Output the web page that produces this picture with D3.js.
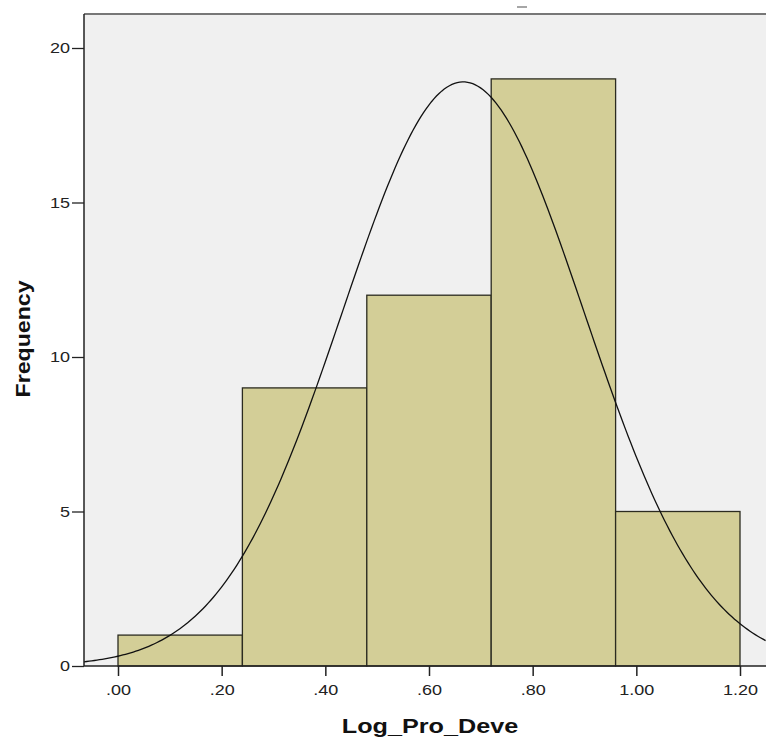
<!DOCTYPE html>
<html>
<head>
<meta charset="utf-8">
<script src="https://cdn.jsdelivr.net/npm/d3@7"></script>
<style>
  body { margin: 0; background: #fff; }
  svg { display: block; font-family: Arial, "Liberation Sans", sans-serif; }
</style>
</head>
<body>
<div id="chart"></div>
<script>
// histogram bins (Log_Pro_Deve) and their counts
const binEdges = [0, 0.24, 0.48, 0.72, 0.96, 1.20];
const counts = [1, 9, 12, 19, 5];
const xTicks = [0, 0.2, 0.4, 0.6, 0.8, 1.0, 1.2];
const yTicks = [0, 5, 10, 15, 20];

// fitted normal curve parameters
const curveMean = 0.666;
const curveSd = 0.233;
const curveN = 46;

const width = 766, height = 740;
const plot = { left: 84, top: 14, right: 766, bottom: 666 };
const stretch = 1.2; // the original picture is a bit wider than tall, text included

const svg = d3.select("#chart").append("svg")
  .attr("width", width)
  .attr("height", height);

const x = d3.scaleLinear()
  .domain([0, 1.2])
  .range([118, 740]);

const y = d3.scaleLinear()
  .domain([0, 20])
  .range([666, 48]);

// plot background
svg.append("rect")
  .attr("x", plot.left)
  .attr("y", plot.top)
  .attr("width", plot.right - plot.left)
  .attr("height", plot.bottom - plot.top)
  .attr("fill", "#f0f0f0");

// bars
const bins = counts.map((c, i) => ({ x0: binEdges[i], x1: binEdges[i + 1], n: c }));
svg.selectAll(".bar")
  .data(bins)
  .enter()
  .append("rect")
  .attr("class", "bar")
  .attr("x", d => x(d.x0))
  .attr("y", d => y(d.n))
  .attr("width", d => x(d.x1) - x(d.x0))
  .attr("height", d => y(0) - y(d.n))
  .attr("fill", "#d3ce97")
  .attr("stroke", "#2b2b20")
  .attr("stroke-width", 1.3);

// normal curve
const bw = binEdges[1] - binEdges[0];
const xs = d3.range(x.invert(plot.left), x.invert(plot.right) + 0.001, 0.005);
const dens = v => curveN * bw / (curveSd * Math.sqrt(2 * Math.PI)) *
  Math.exp(-((v - curveMean) ** 2) / (2 * curveSd * curveSd));

svg.append("path")
  .datum(xs)
  .attr("fill", "none")
  .attr("stroke", "#111")
  .attr("stroke-width", 1.3)
  .attr("d", d3.line().x(d => x(d)).y(d => y(dens(d))));

// frame
svg.append("line")
  .attr("x1", plot.left).attr("x2", plot.right)
  .attr("y1", plot.top).attr("y2", plot.top)
  .attr("stroke", "#777").attr("stroke-width", 2);
svg.append("line")
  .attr("x1", plot.left).attr("x2", plot.left)
  .attr("y1", plot.top).attr("y2", plot.bottom)
  .attr("stroke", "#222").attr("stroke-width", 1.5);
svg.append("line")
  .attr("x1", plot.left).attr("x2", plot.right)
  .attr("y1", plot.bottom).attr("y2", plot.bottom)
  .attr("stroke", "#222").attr("stroke-width", 1.5);

// small mark at top (clipped title remnant)
svg.append("line")
  .attr("x1", 517).attr("x2", 527)
  .attr("y1", 7).attr("y2", 7)
  .attr("stroke", "#888").attr("stroke-width", 1.5);

// y axis
const yAxis = svg.append("g")
  .attr("transform", `translate(${plot.left},0)`)
  .call(d3.axisLeft(y).tickValues(yTicks).tickSize(12).tickPadding(2).tickFormat(d3.format("d")));
yAxis.select(".domain").remove();
yAxis.selectAll("text")
  .style("font-size", "15px")
  .attr("fill", "#222")
  .attr("x", -14 / stretch)
  .attr("transform", `scale(${stretch},1)`);
yAxis.selectAll("line").attr("stroke", "#222").attr("stroke-width", 1.3);

// x axis
const xAxis = svg.append("g")
  .attr("transform", `translate(0,${plot.bottom})`)
  .call(d3.axisBottom(x).tickValues(xTicks).tickSize(10).tickPadding(8)
    .tickFormat(d => d3.format(".2f")(d).replace(/^0/, "")));
xAxis.select(".domain").remove();
xAxis.selectAll("text")
  .style("font-size", "15px")
  .attr("fill", "#222")
  .attr("transform", `scale(${stretch},1)`);
xAxis.selectAll("line").attr("stroke", "#222").attr("stroke-width", 1.5);

// axis titles
svg.append("text")
  .attr("transform", `translate(430,733) scale(${stretch},1)`)
  .attr("text-anchor", "middle")
  .style("font-size", "21px")
  .style("font-weight", "bold")
  .attr("fill", "#111")
  .text("Log_Pro_Deve");

svg.append("text")
  .attr("transform", "translate(30,339) rotate(-90)")
  .attr("text-anchor", "middle")
  .attr("textLength", 117)
  .attr("lengthAdjust", "spacingAndGlyphs")
  .style("font-size", "21px")
  .style("font-weight", "bold")
  .attr("fill", "#111")
  .text("Frequency");
</script>
</body>
</html>
